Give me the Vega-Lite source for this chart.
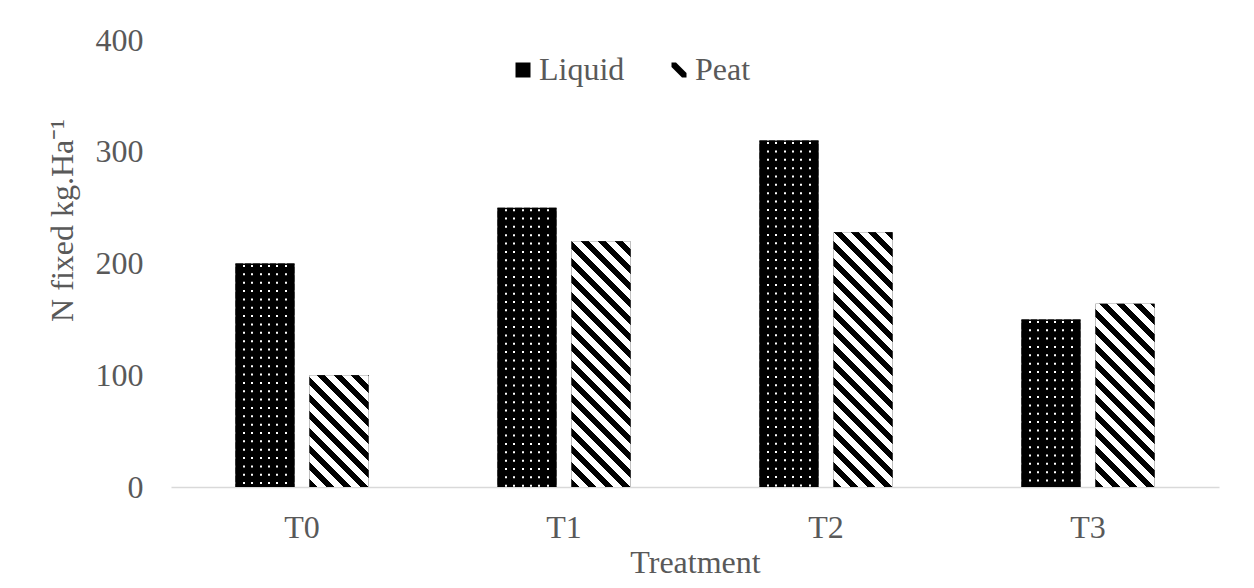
{
  "$schema": "https://vega.github.io/schema/vega-lite/v6.json",
  "width": 1048,
  "height": 447,
  "autosize": {"type": "none"},
  "padding": {"left": 171, "top": 40, "right": 35, "bottom": 101},
  "background": "white",
  "config": {"view": {"stroke": null}, "font": "Liberation Serif"},
  "params": [
    {"name": "ps", "value": [
      {"offset": 0, "color": "#000"}, {"offset": 0.0225, "color": "#000"}, {"offset": 0.0225, "color": "#fff"}, {"offset": 0.05, "color": "#fff"},
      {"offset": 0.05, "color": "#000"}, {"offset": 0.0725, "color": "#000"}, {"offset": 0.0725, "color": "#fff"}, {"offset": 0.1, "color": "#fff"},
      {"offset": 0.1, "color": "#000"}, {"offset": 0.1225, "color": "#000"}, {"offset": 0.1225, "color": "#fff"}, {"offset": 0.15, "color": "#fff"},
      {"offset": 0.15, "color": "#000"}, {"offset": 0.1725, "color": "#000"}, {"offset": 0.1725, "color": "#fff"}, {"offset": 0.2, "color": "#fff"},
      {"offset": 0.2, "color": "#000"}, {"offset": 0.2225, "color": "#000"}, {"offset": 0.2225, "color": "#fff"}, {"offset": 0.25, "color": "#fff"},
      {"offset": 0.25, "color": "#000"}, {"offset": 0.2725, "color": "#000"}, {"offset": 0.2725, "color": "#fff"}, {"offset": 0.3, "color": "#fff"},
      {"offset": 0.3, "color": "#000"}, {"offset": 0.3225, "color": "#000"}, {"offset": 0.3225, "color": "#fff"}, {"offset": 0.35, "color": "#fff"},
      {"offset": 0.35, "color": "#000"}, {"offset": 0.3725, "color": "#000"}, {"offset": 0.3725, "color": "#fff"}, {"offset": 0.4, "color": "#fff"},
      {"offset": 0.4, "color": "#000"}, {"offset": 0.4225, "color": "#000"}, {"offset": 0.4225, "color": "#fff"}, {"offset": 0.45, "color": "#fff"},
      {"offset": 0.45, "color": "#000"}, {"offset": 0.4725, "color": "#000"}, {"offset": 0.4725, "color": "#fff"}, {"offset": 0.5, "color": "#fff"},
      {"offset": 0.5, "color": "#000"}, {"offset": 0.5225, "color": "#000"}, {"offset": 0.5225, "color": "#fff"}, {"offset": 0.55, "color": "#fff"},
      {"offset": 0.55, "color": "#000"}, {"offset": 0.5725, "color": "#000"}, {"offset": 0.5725, "color": "#fff"}, {"offset": 0.6, "color": "#fff"},
      {"offset": 0.6, "color": "#000"}, {"offset": 0.6225, "color": "#000"}, {"offset": 0.6225, "color": "#fff"}, {"offset": 0.65, "color": "#fff"},
      {"offset": 0.65, "color": "#000"}, {"offset": 0.6725, "color": "#000"}, {"offset": 0.6725, "color": "#fff"}, {"offset": 0.7, "color": "#fff"},
      {"offset": 0.7, "color": "#000"}, {"offset": 0.7225, "color": "#000"}, {"offset": 0.7225, "color": "#fff"}, {"offset": 0.75, "color": "#fff"},
      {"offset": 0.75, "color": "#000"}, {"offset": 0.7725, "color": "#000"}, {"offset": 0.7725, "color": "#fff"}, {"offset": 0.8, "color": "#fff"},
      {"offset": 0.8, "color": "#000"}, {"offset": 0.8225, "color": "#000"}, {"offset": 0.8225, "color": "#fff"}, {"offset": 0.85, "color": "#fff"},
      {"offset": 0.85, "color": "#000"}, {"offset": 0.8725, "color": "#000"}, {"offset": 0.8725, "color": "#fff"}, {"offset": 0.9, "color": "#fff"},
      {"offset": 0.9, "color": "#000"}, {"offset": 0.9225, "color": "#000"}, {"offset": 0.9225, "color": "#fff"}, {"offset": 0.95, "color": "#fff"},
      {"offset": 0.95, "color": "#000"}, {"offset": 0.9725, "color": "#000"}, {"offset": 0.9725, "color": "#fff"}, {"offset": 1, "color": "#fff"}
    ]}
  ],
  "data": {"values": [
    {"treatment": "T0", "type": "Liquid", "value": 200},
    {"treatment": "T0", "type": "Peat", "value": 100},
    {"treatment": "T1", "type": "Liquid", "value": 250},
    {"treatment": "T1", "type": "Peat", "value": 220},
    {"treatment": "T2", "type": "Liquid", "value": 310},
    {"treatment": "T2", "type": "Peat", "value": 228},
    {"treatment": "T3", "type": "Liquid", "value": 150},
    {"treatment": "T3", "type": "Peat", "value": 164}
  ]},
  "encoding": {
    "x": {
      "field": "treatment", "type": "nominal",
      "scale": {"paddingInner": 0.492, "paddingOuter": 0.246},
      "axis": {
        "title": "Treatment", "titleFont": "Liberation Serif", "titleFontSize": 32, "titleFontWeight": "normal",
        "titleColor": "#595959", "titleY": 85, "titleBaseline": "alphabetic",
        "labelAngle": 0, "labelFont": "Liberation Serif", "labelFontSize": 32, "labelColor": "#595959",
        "labelPadding": 25, "ticks": false, "tickSize": 0, "grid": false,
        "domainColor": "#d9d9d9", "domainWidth": 1.5
      }
    },
    "xOffset": {"field": "type", "type": "nominal", "scale": {"paddingInner": 0.2027, "paddingOuter": 0}},
    "y": {
      "field": "value", "type": "quantitative",
      "scale": {"domain": [0, 400], "nice": false},
      "axis": {
        "title": "N fixed kg.Ha⁻¹", "titleFont": "Liberation Serif", "titleFontSize": 32, "titleFontWeight": "normal",
        "titleColor": "#595959", "titleAngle": -90, "titleX": -99, "titleY": 180,
        "titleBaseline": "alphabetic", "titleAlign": "center",
        "values": [0, 100, 200, 300, 400], "domain": false, "ticks": false, "tickSize": 0, "grid": false,
        "labelFont": "Liberation Serif", "labelFontSize": 32, "labelColor": "#595959", "labelPadding": 28
      }
    }
  },
  "layer": [
    {
      "mark": {"type": "bar"},
      "encoding": {
        "fill": {
          "field": "type", "type": "nominal",
          "scale": {"range": ["#000000", "#000000"]},
          "legend": {
            "title": null, "orient": "none", "legendX": 336, "legendY": 14, "direction": "horizontal",
            "padding": 0, "symbolSize": 225, "symbolStrokeWidth": 0,
            "labelFont": "Liberation Serif", "labelFontSize": 32, "labelColor": "#595959",
            "labelOffset": 0, "columnPadding": 38,
            "encode": {"symbols": {"update": {
              "shape": [
                {"test": "datum.value === 'Peat'", "value": "M-1,-1L-0.4,-1L1,0.4L1,1L0.4,1L-1,-0.4Z"},
                {"value": "square"}
              ]
            }}}
          }
        }
      }
    },
    {
      "transform": [{"filter": "datum.type === 'Liquid'"}],
      "mark": {"type": "rule", "stroke": "#ffffff", "strokeWidth": 59, "strokeDash": [2, 6.35], "strokeDashOffset": 6.85, "strokeCap": "butt"},
      "encoding": {"y2": {"datum": 0}}
    },
    {
      "transform": [{"filter": "datum.type === 'Liquid'"}],
      "mark": {"type": "bar", "fill": {"gradient": "linear", "x1": 0, "y1": 0, "x2": 1, "y2": 0, "stops": [
        {"offset": 0, "color": "#000"},
        {"offset": 0.1271, "color": "#000"}, {"offset": 0.1271, "color": "rgba(0,0,0,0)"}, {"offset": 0.161, "color": "rgba(0,0,0,0)"}, {"offset": 0.161, "color": "#000"},
        {"offset": 0.2683, "color": "#000"}, {"offset": 0.2683, "color": "rgba(0,0,0,0)"}, {"offset": 0.3022, "color": "rgba(0,0,0,0)"}, {"offset": 0.3022, "color": "#000"},
        {"offset": 0.4097, "color": "#000"}, {"offset": 0.4097, "color": "rgba(0,0,0,0)"}, {"offset": 0.4436, "color": "rgba(0,0,0,0)"}, {"offset": 0.4436, "color": "#000"},
        {"offset": 0.5508, "color": "#000"}, {"offset": 0.5508, "color": "rgba(0,0,0,0)"}, {"offset": 0.5847, "color": "rgba(0,0,0,0)"}, {"offset": 0.5847, "color": "#000"},
        {"offset": 0.692, "color": "#000"}, {"offset": 0.692, "color": "rgba(0,0,0,0)"}, {"offset": 0.7259, "color": "rgba(0,0,0,0)"}, {"offset": 0.7259, "color": "#000"},
        {"offset": 0.8334, "color": "#000"}, {"offset": 0.8334, "color": "rgba(0,0,0,0)"}, {"offset": 0.8673, "color": "rgba(0,0,0,0)"}, {"offset": 0.8673, "color": "#000"},
        {"offset": 1, "color": "#000"}
      ]}}
    },
    {
      "transform": [{"filter": "datum.type === 'Peat' && datum.treatment === 'T0'"}],
      "mark": {"type": "bar", "fill": {"expr": "{gradient: 'linear', x1: 0, y1: 1, x2: 1.2562, y2: -1.3793, stops: ps}"}}
    },
    {
      "transform": [{"filter": "datum.type === 'Peat' && datum.treatment === 'T1'"}],
      "mark": {"type": "bar", "fill": {"expr": "{gradient: 'linear', x1: 0, y1: 1, x2: 0.31381, y2: -0.30765, stops: ps}"}}
    },
    {
      "transform": [{"filter": "datum.type === 'Peat' && datum.treatment === 'T2'"}],
      "mark": {"type": "bar", "fill": {"expr": "{gradient: 'linear', x1: 0, y1: 1, x2: 0.29328, y2: -0.26651, stops: ps}"}}
    },
    {
      "transform": [{"filter": "datum.type === 'Peat' && datum.treatment === 'T3'"}],
      "mark": {"type": "bar", "fill": {"expr": "{gradient: 'linear', x1: 0, y1: 1, x2: 0.54115, y2: -0.68098, stops: ps}"}}
    }
  ]
}
